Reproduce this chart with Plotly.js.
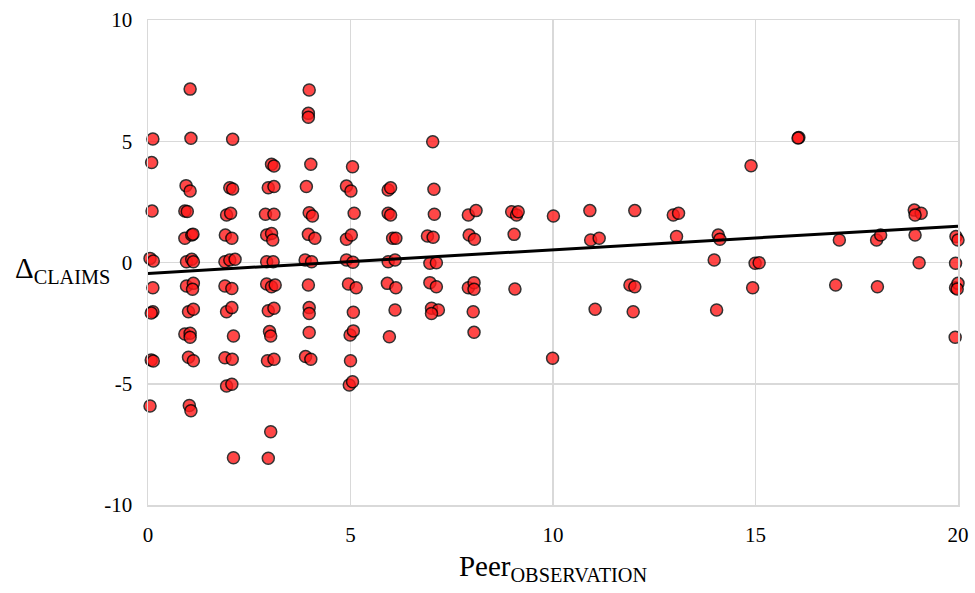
<!DOCTYPE html>
<html>
<head>
<meta charset="utf-8">
<script src="https://cdn.plot.ly/plotly-3.0.1.min.js"></script>
<style>html,body{margin:0;padding:0;background:#fff;}#chart{width:975px;height:593px;}</style>
</head>
<body>
<div id="chart"></div>
<script>
// Peer observation (x) values (with visual jitter)
const peerObservation = [
  0.12,0.09,0.10,0.05,0.13,0.12,0.12,0.08,0.05,0.08,0.13,
  1.04,1.06,0.94,1.04,0.91,0.97,0.91,1.08,1.11,0.95,1.08,1.12,0.95,1.12,1.10,1.00,1.12,0.91,1.04,1.04,1.00,1.12,1.02,1.06,
  2.09,2.02,2.09,1.94,2.04,1.91,2.07,1.90,2.02,2.15,1.90,2.07,1.94,2.07,2.11,1.90,2.08,1.94,2.07,2.11,
  3.05,3.11,2.97,3.11,2.90,3.11,2.93,3.05,3.08,2.93,3.09,2.93,3.05,3.14,2.97,3.11,3.00,3.03,2.95,3.11,3.03,2.97,
  3.98,3.96,3.96,4.02,3.91,3.98,4.06,3.96,4.12,3.88,4.04,3.96,3.98,3.98,3.98,3.89,4.02,
  5.05,4.90,5.01,5.09,4.90,5.02,4.90,5.06,4.95,5.14,5.07,4.99,5.07,5.00,4.97,5.05,
  5.93,5.99,5.93,5.99,6.04,6.12,5.93,6.10,5.91,6.12,6.10,5.96,
  7.03,7.06,7.07,6.90,7.04,6.96,7.12,6.96,7.12,7.00,7.17,7.00,
  7.91,8.10,7.93,8.06,7.91,8.05,8.05,8.03,8.05,
  8.98,9.10,9.14,9.04,9.06,
  10.01,9.99,
  10.91,10.93,11.14,11.04,
  12.02,11.90,12.02,11.98,
  12.97,13.10,13.05,
  14.08,14.12,13.98,14.04,
  14.89,14.99,15.09,14.93,
  16.07,16.05,
  17.07,16.98,
  17.99,18.09,18.01,
  18.92,19.09,18.94,18.94,19.04,
  19.95,20.00,19.94,20.04,19.94,20.00,19.98,19.93
];
// Delta claims (y) values
const deltaClaims = [
  5.09,4.12,2.12,0.17,0.06,-1.04,-2.03,-4.02,-5.92,-2.08,-4.06,
  7.15,5.12,3.17,2.95,2.12,2.10,1.00,1.13,1.17,0.03,0.13,0.03,-0.97,-0.86,-1.10,-2.03,-1.93,-2.95,-2.92,-3.08,-3.91,-4.05,-5.90,-6.11,
  5.08,3.08,3.03,1.96,2.03,1.13,1.00,0.03,0.10,0.13,-0.97,-1.07,-2.03,-1.86,-3.03,-3.93,-3.99,-5.09,-5.02,-8.05,
  4.05,3.98,3.08,3.13,1.99,1.99,1.13,1.20,0.93,0.03,0.03,-0.89,-1.00,-0.93,-1.99,-1.89,-2.85,-3.03,-4.05,-3.99,-6.98,-8.07,
  7.11,6.15,5.99,4.05,3.13,2.05,1.92,1.16,1.00,0.10,0.03,-0.93,-1.86,-2.10,-2.89,-3.88,-3.99,
  3.95,3.15,2.95,2.03,0.96,1.13,0.10,0.01,-0.89,-1.04,-2.05,-2.99,-2.82,-4.05,-5.05,-4.92,
  2.99,3.08,2.03,1.96,1.00,1.00,0.03,0.10,-0.86,-1.04,-1.96,-3.06,
  4.98,3.02,1.99,1.09,1.04,-0.03,-0.01,-0.83,-1.00,-1.89,-1.96,-2.10,
  1.96,2.14,1.13,0.96,-1.04,-0.83,-1.10,-2.03,-2.88,
  2.09,1.96,2.09,1.16,-1.09,
  1.92,-3.95,
  2.14,0.93,1.00,-1.93,
  2.14,-0.93,-1.00,-2.03,
  1.96,2.03,1.07,
  1.13,0.96,0.10,-1.96,
  3.99,-0.03,-0.01,-1.04,
  5.15,5.13,
  0.93,-0.93,
  0.93,1.13,-1.00,
  2.16,2.03,1.96,1.13,-0.01,
  1.07,0.93,-0.03,-0.01,-1.04,-0.86,-1.09,-3.08
];
// Linear trend line endpoints
const trendX = [0, 20];
const trendY = [-0.45, 1.5];
// Axis ticks
const xTicks = [0, 5, 10, 15, 20];
const yTicks = [-10, -5, 0, 5, 10];

const serif = 'Liberation Serif, serif';

const traces = [
  {
    type: 'scatter', mode: 'markers',
    x: peerObservation, y: deltaClaims,
    cliponaxis: false,
    marker: {size: 12, color: '#ff1a1a', opacity: 0.8, line: {color: '#000000', width: 1.5}},
    hoverinfo: 'x+y', showlegend: false
  },
  {
    type: 'scatter', mode: 'lines',
    x: trendX, y: trendY,
    line: {color: '#000000', width: 3},
    cliponaxis: false, showlegend: false, hoverinfo: 'skip'
  }
];

const layout = {
  width: 975, height: 593,
  margin: {l: 148, r: 17, t: 20, b: 88},
  paper_bgcolor: '#ffffff', plot_bgcolor: '#ffffff',
  font: {family: serif, color: '#000000', size: 21},
  showlegend: false,
  xaxis: {
    range: [0, 20], tickvals: xTicks, ticktext: xTicks.map(String),
    showgrid: true, gridcolor: '#d9d9d9', gridwidth: 1.5,
    zeroline: false, showline: true, linecolor: '#d9d9d9', linewidth: 1.5, mirror: true,
    ticks: 'outside', ticklen: 10, tickcolor: 'rgba(0,0,0,0)',
    tickfont: {family: serif, size: 21, color: '#000'},
    title: {text: 'Peer<sub>OBSERVATION</sub>', font: {family: serif, size: 29, color: '#000'}, standoff: 10}
  },
  yaxis: {
    range: [-10, 10], tickvals: yTicks, ticktext: yTicks.map(String),
    showgrid: true, gridcolor: '#d9d9d9', gridwidth: 1.5,
    zeroline: false, showline: true, linecolor: '#d9d9d9', linewidth: 1.5, mirror: true,
    ticks: 'outside', ticklen: 10, tickcolor: 'rgba(0,0,0,0)',
    tickfont: {family: serif, size: 21, color: '#000'}
  },
  annotations: [{
    xref: 'paper', yref: 'y', x: 0, y: -0.3, xshift: -36,
    xanchor: 'right', yanchor: 'middle', showarrow: false,
    text: 'Δ<sub>CLAIMS</sub>',
    font: {family: serif, size: 29, color: '#000'}
  }]
};

Plotly.newPlot('chart', traces, layout, {displayModeBar: false, staticPlot: true});
</script>
</body>
</html>
